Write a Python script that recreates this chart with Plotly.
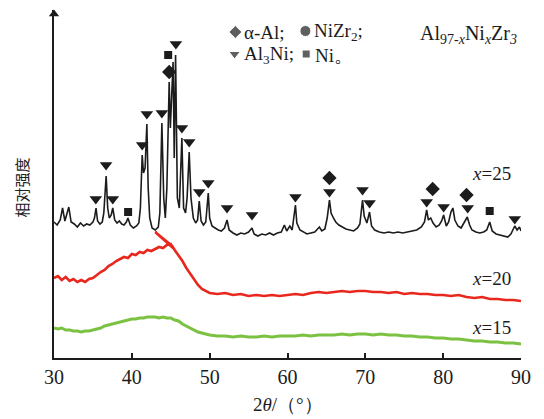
import plotly.graph_objects as go

# ---------------- data (2θ in degrees, relative intensity in arbitrary units) ----------------
x25_theta = [30.0, 30.4, 30.8, 31.1, 31.4, 31.7, 31.9, 32.2, 32.6, 33.0, 33.4, 33.8, 34.2, 34.6,
             35.0, 35.2, 35.4, 35.6, 35.9, 36.2, 36.4, 36.7, 36.9, 37.1, 37.35, 37.55, 37.8, 38.1,
             38.4, 38.7, 39.0, 39.3, 39.5, 39.8, 40.2, 40.6, 40.9, 41.1, 41.33, 41.5, 41.7, 41.93,
             42.1, 42.3, 42.6, 43.0, 43.4, 43.6, 43.86, 44.1, 44.3, 44.5, 44.8, 44.95, 45.05, 45.3,
             45.45, 45.62, 45.85, 46.1, 46.43, 46.65, 46.9, 47.1, 47.37, 47.6, 47.9, 48.2, 48.45,
             48.66, 48.9, 49.2, 49.5, 49.82, 50.0, 50.3, 50.7, 51.1, 51.5, 51.9, 52.23, 52.5, 53.0,
             53.5, 54.0, 54.5, 55.0, 55.44, 55.7, 56.2, 56.7, 57.2, 57.7, 58.2, 58.7, 59.2, 59.6,
             59.9, 60.3, 60.6, 61.02, 61.2, 61.6, 62.0, 62.5, 63.0, 63.5, 64.1, 64.4, 64.8, 65.1,
             65.39, 65.6, 65.9, 66.2, 66.6, 67.0, 67.5, 68.0, 68.5, 69.0, 69.3, 69.64, 69.85, 70.2,
             70.54, 70.8, 71.2, 71.8, 72.4, 73.0, 73.6, 74.2, 74.8, 75.4, 76.0, 76.6, 77.2, 77.6,
             77.88, 78.1, 78.4, 78.7, 79.1, 79.5, 79.8, 80.06, 80.4, 80.7, 81.0, 81.25, 81.5, 81.9,
             82.3, 82.7, 83.1, 83.4, 83.7, 84.2, 84.7, 85.2, 85.6, 85.98, 86.3, 86.8, 87.3, 87.8,
             88.3, 88.7, 89.0, 89.2, 89.5, 89.8, 90.0]
x25_int = [136, 133, 138, 150, 137, 146, 151, 136, 134, 131, 135, 132, 134, 133,
           136, 140, 150, 137, 134, 136, 145, 182, 150, 140, 143, 150, 138, 135,
           137, 134, 133, 136, 140, 133, 130, 132, 135, 150, 203, 185, 190, 234,
           170, 140, 130, 128, 131, 145, 235, 160, 140, 170, 276, 230, 250, 296,
           200, 303, 160, 150, 220, 150, 145, 160, 206, 160, 140, 135, 138,
           157, 137, 133, 136, 165, 140, 132, 130, 128, 127, 130, 138, 128, 125,
           123, 125, 124, 126, 130, 124, 122, 124, 123, 125, 123, 125, 126, 133,
           127, 132, 128, 153, 135, 128, 126, 124, 125, 126, 131, 127, 129, 140,
           158, 145, 140, 136, 133, 131, 129, 128, 127, 130, 134, 158, 142, 135,
           146, 132, 128, 126, 125, 126, 125, 126, 125, 126, 127, 128, 131, 136,
           148, 138, 140, 135, 131, 133, 137, 143, 132, 136, 146, 150, 138, 132,
           130, 136, 141, 133, 128, 126, 125, 126, 128, 136, 127, 124, 123, 122,
           121, 124, 130, 132, 128, 131, 127]

x20_theta = [30.0, 30.5, 31.0, 31.5, 32.0, 32.5, 33.0, 33.5, 34.0, 34.5, 35.0, 35.5, 36.0, 36.5,
             37.0, 37.5, 38.0, 38.5, 39.0, 39.5, 40.0, 40.5, 41.0, 41.5, 42.0, 42.5, 43.0, 43.5,
             44.0, 44.5, 45.0, 45.3, 43.0, 45.2, 45.5, 46.0, 46.5, 47.0, 47.5, 48.0, 48.5, 49.0,
             49.5, 50.0, 51.0, 52.0, 53.0, 54.0, 55.0, 56.0, 57.0, 58.0, 59.0, 60.0, 61.0, 62.0,
             63.0, 64.0, 65.0, 66.0, 67.0, 68.0, 69.0, 70.0, 71.0, 72.0, 73.0, 74.0, 75.0, 76.0,
             77.0, 78.0, 79.0, 80.0, 81.0, 82.0, 83.0, 84.0, 85.0, 86.0, 87.0, 88.0, 89.0, 90.0]
x20_int = [80, 82, 78, 81, 77, 79, 76, 78, 76, 79, 80, 83, 86, 88,
           92, 94, 97, 99, 101, 100, 104, 103, 106, 105, 108, 107, 109, 111,
           110, 113, 114, 110, 126, 112, 108, 103, 97, 90, 84, 78, 73, 69,
           67, 65, 64, 65, 63, 64, 62, 63, 62, 63, 62, 63, 64, 63,
           65, 66, 65, 66, 67, 66, 67, 67, 66, 66, 65, 66, 64, 65,
           64, 64, 63, 63, 62, 63, 61, 60, 61, 59, 59, 58, 58, 57]

x15_theta = [30.0, 30.5, 31.0, 31.5, 32.0, 32.5, 33.0, 33.5, 34.0, 34.5, 35.0, 35.5, 36.0, 36.5,
             37.0, 37.5, 38.0, 38.5, 39.0, 39.5, 40.0, 40.5, 41.0, 41.5, 42.0, 42.5, 43.0, 43.5,
             44.0, 44.5, 45.0, 45.5, 46.0, 46.5, 47.0, 47.5, 48.0, 48.5, 49.0, 49.5, 50.0, 51.0,
             52.0, 53.0, 54.0, 55.0, 56.0, 57.0, 58.0, 59.0, 60.0, 61.0, 62.0, 63.0, 64.0, 65.0,
             66.0, 67.0, 68.0, 69.0, 70.0, 71.0, 72.0, 73.0, 74.0, 75.0, 76.0, 77.0, 78.0, 79.0,
             80.0, 81.0, 82.0, 83.0, 84.0, 85.0, 86.0, 87.0, 88.0, 89.0, 90.0]
x15_int = [30, 29, 30, 28, 28, 27, 27, 26, 27, 27, 28, 29, 30, 32,
           33, 34, 35, 36, 37, 38, 39, 39, 40, 40, 41, 41, 41, 40,
           41, 40, 40, 38, 37, 34, 32, 30, 28, 26, 25, 24, 23, 22,
           22, 21, 22, 21, 21, 22, 21, 22, 22, 22, 23, 22, 23, 23,
           23, 24, 23, 24, 24, 23, 24, 23, 23, 22, 22, 21, 21, 20,
           20, 19, 19, 18, 17, 17, 16, 16, 15, 15, 14]

# phase markers (peak position, marker height)
al3ni_theta = [35.37, 36.69, 37.55, 41.33, 41.93, 43.86, 45.66, 46.43, 47.37, 48.66, 49.82,
               52.23, 55.44, 61.02, 65.39, 69.64, 70.54, 77.88, 80.06, 83.15, 89.2]
al3ni_h = [159, 193, 159, 213, 244, 245, 314, 230, 216, 166, 175,
           150, 143, 161, 166, 168, 155, 156, 151, 150, 139]
alal_theta = [44.8, 65.39, 78.65, 83.0]
alal_h = [286, 180, 169, 163]
ni_theta = [39.52, 44.67, 85.98]
ni_h = [146, 303, 147]

xticks = [30, 40, 50, 60, 70, 80, 90]
curve_labels = ["<i>x</i>=25", "<i>x</i>=20", "<i>x</i>=15"]
curve_label_h = [185, 80, 31]

SERIF = "Liberation Serif, Times New Roman, serif"
INK = "#1c1c1c"

fig = go.Figure()
fig.add_trace(go.Scatter(x=x15_theta, y=x15_int, mode="lines",
                         line=dict(color="#7cc242", width=3), hoverinfo="skip"))
fig.add_trace(go.Scatter(x=x20_theta, y=x20_int, mode="lines",
                         line=dict(color="#e8281e", width=2.6), hoverinfo="skip"))
fig.add_trace(go.Scatter(x=x25_theta, y=x25_int, mode="lines",
                         line=dict(color=INK, width=1.6), hoverinfo="skip"))
fig.add_trace(go.Scatter(x=al3ni_theta, y=al3ni_h, mode="markers", cliponaxis=False,
                         marker=dict(symbol="triangle-down", size=11, color=INK), hoverinfo="skip"))
fig.add_trace(go.Scatter(x=alal_theta, y=alal_h, mode="markers", cliponaxis=False,
                         marker=dict(symbol="diamond", size=11, color=INK), hoverinfo="skip"))
fig.add_trace(go.Scatter(x=ni_theta, y=ni_h, mode="markers", cliponaxis=False,
                         marker=dict(symbol="square", size=8, color=INK), hoverinfo="skip"))

# legend glyphs (top annotation block)
fig.add_trace(go.Scatter(x=[53.3, 62.3, 53.2, 62.4], y=[326, 327, 304, 304], mode="markers",
                         cliponaxis=False,
                         marker=dict(symbol=["diamond", "circle", "triangle-down", "square"],
                                     size=[10, 11, 10, 8], color=INK), hoverinfo="skip"))
# y-axis arrow head
fig.add_trace(go.Scatter(x=[30], y=[344], mode="markers", cliponaxis=False,
                         marker=dict(symbol="triangle-up", size=9, color=INK), hoverinfo="skip"))

ann = []
ann.append(dict(x=54.2, y=326, text="α-Al;", xanchor="left", yanchor="middle", showarrow=False,
                font=dict(family=SERIF, size=19, color=INK)))
ann.append(dict(x=63.2, y=326, text="NiZr<sub>2</sub>;", xanchor="left", yanchor="middle", showarrow=False,
                font=dict(family=SERIF, size=19, color=INK)))
ann.append(dict(x=54.2, y=303, text="Al<sub>3</sub>Ni;", xanchor="left", yanchor="middle", showarrow=False,
                font=dict(family=SERIF, size=19, color=INK)))
ann.append(dict(x=63.3, y=303, text="Ni。", xanchor="left", yanchor="middle", showarrow=False,
                font=dict(family=SERIF, size=19, color=INK)))
ann.append(dict(x=76.8, y=324, text="Al<sub>97-<i>x</i></sub>Ni<sub><i>x</i></sub>Zr<sub><i>3</i></sub>",
                xanchor="left", yanchor="middle", showarrow=False,
                font=dict(family=SERIF, size=20, color=INK)))
for t, h in zip(curve_labels, curve_label_h):
    ann.append(dict(x=89.0, y=h, text=t, xanchor="right", yanchor="middle", showarrow=False,
                    font=dict(family=SERIF, size=19, color=INK)))
ann.append(dict(x=0.5, y=-0.135, xref="paper", yref="paper", text="2<i>θ</i>/（°）",
                xanchor="center", yanchor="middle", showarrow=False,
                font=dict(family=SERIF, size=19, color=INK)))
ann.append(dict(x=0, y=0.49, xref="paper", yref="paper", text="相对强度", textangle=-90,
                xanchor="center", yanchor="middle", xshift=-33, showarrow=False,
                font=dict(family="Noto Sans CJK SC", size=15, color="#222222")))

fig.update_layout(
    width=544, height=419,
    margin=dict(l=54, r=23, t=10, b=61),
    paper_bgcolor="white", plot_bgcolor="white",
    showlegend=False,
    annotations=ann,
    xaxis=dict(range=[30, 90], tickvals=xticks, ticktext=[str(v) for v in xticks],
               ticks="inside", ticklen=5, tickwidth=1.5, tickcolor=INK,
               showline=True, linecolor=INK, linewidth=2, showgrid=False, zeroline=False,
               tickfont=dict(family=SERIF, size=20, color=INK)),
    yaxis=dict(range=[0, 348], showline=True, linecolor=INK, linewidth=2, showgrid=False,
               zeroline=False, showticklabels=False, ticks=""),
)

fig.write_html("out.html", config={"displayModeBar": False},
               post_script="document.body.style.margin='0';document.body.style.overflow='hidden';")
